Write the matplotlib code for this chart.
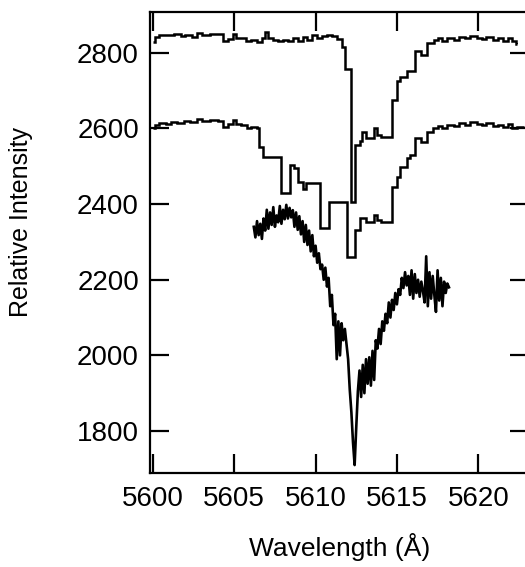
import matplotlib
matplotlib.use("Agg")
import matplotlib.pyplot as plt
import numpy as np

plt.rcParams["font.family"] = ["Liberation Sans", "DejaVu Sans"]

# upper model spectrum (stepped): bin start wavelengths, intensities, last bin end
top_x = [5600.0, 5600.1, 5600.4, 5600.9, 5601.3, 5601.7, 5602.0, 5602.4, 5602.7, 5603.0,
         5603.5, 5604.0, 5604.3, 5604.6, 5604.9, 5605.1, 5605.4, 5605.7, 5606.0, 5606.4,
         5606.7, 5606.9, 5607.1, 5607.4, 5607.7, 5608.0, 5608.3, 5608.6, 5608.9, 5609.2,
         5609.5, 5609.8, 5610.1, 5610.4, 5610.7, 5611.0, 5611.3, 5611.6, 5611.8, 5612.18,
         5612.42, 5612.72, 5612.85, 5613.1, 5613.6, 5613.8, 5614.0, 5614.7, 5615.0, 5615.2,
         5615.6, 5616.1, 5616.45, 5616.85, 5617.3, 5617.5, 5617.8, 5618.1, 5618.5, 5618.8,
         5619.2, 5619.5, 5619.9, 5620.2, 5620.5, 5620.9, 5621.2, 5621.5, 5621.8, 5622.1,
         5622.3]
top_y = [2828, 2842, 2848, 2846, 2850, 2845, 2848, 2842, 2852, 2848,
         2850, 2851, 2832, 2836, 2849, 2840, 2838, 2830, 2834, 2828,
         2838, 2856, 2838, 2835, 2830, 2835, 2830, 2838, 2832, 2842,
         2835, 2846, 2840, 2845, 2848, 2844, 2836, 2815, 2758, 2405,
         2557, 2566, 2590, 2575, 2600, 2582, 2578, 2676, 2725, 2735,
         2752, 2806, 2795, 2826, 2834, 2840, 2832, 2838, 2834, 2842,
         2838, 2844, 2840, 2836, 2842, 2834, 2838, 2832, 2838, 2832,
         2824]
top_end = 5622.4

# lower model spectrum (stepped)
mid_x = [5600.0, 5600.15, 5600.4, 5600.8, 5601.1, 5601.5, 5601.9, 5602.3, 5602.7, 5603.0,
         5603.5, 5604.0, 5604.3, 5604.6, 5604.9, 5605.1, 5605.4, 5605.8, 5606.0, 5606.4,
         5606.55, 5606.75, 5607.9, 5608.4, 5608.7, 5608.9, 5609.2, 5609.4, 5610.25, 5610.8,
         5611.93, 5612.42, 5612.72, 5613.1, 5613.6, 5613.8, 5614.0, 5614.7, 5615.0, 5615.2,
         5615.6, 5615.8, 5616.1, 5616.45, 5616.85, 5617.2, 5617.5, 5617.8, 5618.1, 5618.5,
         5618.8, 5619.2, 5619.5, 5619.9, 5620.2, 5620.5, 5620.9, 5621.2, 5621.5, 5621.8,
         5622.1, 5622.4]
mid_y = [2600, 2610, 2614, 2612, 2618, 2614, 2620, 2616, 2624, 2620,
         2622, 2620, 2604, 2612, 2622, 2612, 2608, 2600, 2604, 2600,
         2551, 2525, 2430, 2504, 2496, 2459, 2440, 2456, 2337, 2405,
         2260, 2332, 2363, 2353, 2371, 2358, 2352, 2445, 2472, 2498,
         2522, 2530, 2575, 2565, 2591, 2600, 2607, 2600, 2610, 2606,
         2614, 2610, 2616, 2612, 2608, 2614, 2606, 2610, 2604, 2612,
         2600, 2604]
mid_end = 5622.8

# observed spectrum, sampled every 0.1 A from 5606.2 to 5618.2
obs_start, obs_step = 5606.2, 0.1
obs_y = [2340, 2312, 2355, 2318, 2348, 2308, 2362, 2330, 2385, 2335,
         2378, 2345, 2392, 2340, 2370, 2352, 2395, 2348, 2385, 2360,
         2398, 2362, 2390, 2365, 2384, 2340, 2378, 2332, 2368, 2320,
         2355, 2300, 2345, 2292, 2330, 2275, 2318, 2262, 2290, 2245,
         2270, 2228, 2240, 2200, 2232, 2182, 2205, 2130, 2160, 2080,
         2110, 1990, 2090, 2000, 2085, 2040, 2070, 2030, 1990, 1910,
         1850, 1770, 1710, 1810, 1905, 1960, 1890, 1975, 1900, 1990,
         1925, 1995, 1920, 2012, 1935, 2040, 2018, 2070, 2030, 2090,
         2065, 2110, 2085, 2140, 2100, 2147, 2120, 2165, 2135, 2175,
         2160, 2205, 2178, 2220, 2185, 2210, 2160, 2225, 2150, 2215,
         2165, 2200, 2155, 2195, 2170, 2140, 2262, 2130, 2220, 2150,
         2210, 2160, 2115, 2225, 2145, 2205, 2130, 2195, 2165, 2190, 2180]
obs_x = obs_start + obs_step * np.arange(len(obs_y))

fig = plt.figure(figsize=(5.25, 5.67), dpi=100)
# right spine sits just past the image edge, as in the original
ax = fig.add_axes([150 / 525, 94 / 567, 379 / 525, 461 / 567])

ax.stairs(top_y, top_x + [top_end], baseline=None, color="black", lw=1.8)
ax.stairs(mid_y, mid_x + [mid_end], baseline=None, color="black", lw=1.8)
ax.plot(obs_x, obs_y, color="black", lw=1.9)

ax.set_xlim(5599.82, 5623.12)
ax.set_ylim(1689, 2908)
ax.set_xticks([5600, 5605, 5610, 5615, 5620])
ax.set_yticks([1800, 2000, 2200, 2400, 2600, 2800])

for s in ax.spines.values():
    s.set_linewidth(1.6)
ax.tick_params(direction="in", length=13.5, width=1.6, labelsize=20,
               top=True, right=True)
ax.tick_params(axis="x", pad=9)
ax.tick_params(axis="y", pad=8)

ax.set_xlabel("Wavelength (Å)", fontsize=19)
ax.set_ylabel("Relative Intensity", fontsize=18)
ax.xaxis.set_label_coords(0.5, -0.13)
ax.yaxis.set_label_coords(-0.31, 0.545)

fig.savefig("out.png", dpi=100)
